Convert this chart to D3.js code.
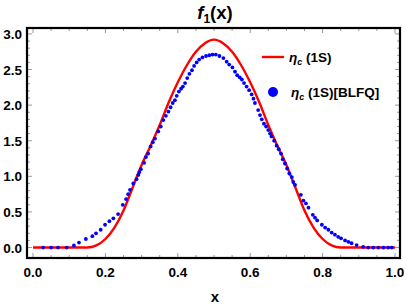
<!DOCTYPE html>
<meta charset="utf-8">
<script src="https://d3js.org/d3.v7.min.js"></script>
<style>
  body { margin: 0; background: #fff; }
  text { font-family: "Liberation Sans", Arial, sans-serif; font-weight: bold; }
</style>
<div id="my_dataviz"></div>
<script>
// red curve, eta_c(1S)
var redX = [0, 0.05, 0.1, 0.15, 0.175, 0.2, 0.225, 0.25, 0.275, 0.3, 0.325, 0.35, 0.375, 0.4, 0.425, 0.45, 0.475, 0.5,
            0.525, 0.55, 0.575, 0.6, 0.625, 0.65, 0.675, 0.7, 0.725, 0.75, 0.775, 0.8, 0.825, 0.85, 0.9, 0.95, 1];
var redY = [0, 0, 0, 0.0, 0.03, 0.12, 0.28, 0.52, 0.84, 1.16, 1.43, 1.72, 2.04, 2.32, 2.56, 2.75, 2.87, 2.92,
            2.87, 2.75, 2.56, 2.32, 2.04, 1.72, 1.43, 1.16, 0.84, 0.52, 0.28, 0.12, 0.03, 0.0, 0, 0, 0];

// blue points, eta_c(1S)[BLFQ]
var blueX = [0.028, 0.050, 0.069, 0.093, 0.113, 0.127, 0.146, 0.164, 0.174, 0.187, 0.199, 0.211, 0.222, 0.235,
             0.248, 0.257, 0.263, 0.268, 0.277, 0.286, 0.291, 0.294, 0.298, 0.307, 0.312, 0.318, 0.325, 0.331,
             0.337, 0.346, 0.353, 0.360, 0.367, 0.374, 0.380, 0.386, 0.392, 0.397, 0.403, 0.409, 0.414, 0.420,
             0.426, 0.432, 0.439, 0.445, 0.452, 0.459, 0.468, 0.478, 0.487, 0.496, 0.505, 0.515, 0.526, 0.535,
             0.542, 0.551, 0.558, 0.564, 0.571, 0.577, 0.583, 0.590, 0.597, 0.604, 0.609, 0.613, 0.622, 0.627,
             0.632, 0.638, 0.644, 0.650, 0.655, 0.659, 0.666, 0.673, 0.679, 0.685, 0.690, 0.696, 0.702, 0.708,
             0.715, 0.719, 0.724, 0.740, 0.747, 0.754, 0.761, 0.773, 0.779, 0.785, 0.798, 0.807, 0.816, 0.825,
             0.834, 0.843, 0.851, 0.862, 0.871, 0.880, 0.894, 0.912, 0.926, 0.940, 0.954, 0.968, 0.981, 0.991];
var blueY = [0, 0, 0, 0, 0.03, 0.07, 0.12, 0.16, 0.20, 0.25, 0.32, 0.37, 0.41, 0.47,
             0.60, 0.68, 0.75, 0.81, 0.90, 0.96, 1.02, 1.06, 1.10, 1.19, 1.27, 1.32, 1.42, 1.48,
             1.53, 1.63, 1.70, 1.79, 1.85, 1.91, 1.97, 2.03, 2.07, 2.13, 2.19, 2.23, 2.26, 2.31,
             2.38, 2.44, 2.49, 2.55, 2.60, 2.64, 2.67, 2.69, 2.70, 2.71, 2.71, 2.69, 2.66, 2.61,
             2.57, 2.53, 2.47, 2.42, 2.39, 2.36, 2.31, 2.26, 2.21, 2.15, 2.09, 2.03, 1.93, 1.86,
             1.80, 1.74, 1.70, 1.65, 1.60, 1.56, 1.50, 1.43, 1.38, 1.32, 1.24, 1.18, 1.11, 1.04,
             0.99, 0.92, 0.88, 0.74, 0.66, 0.62, 0.56, 0.46, 0.42, 0.38, 0.32, 0.28, 0.25, 0.21,
             0.18, 0.15, 0.13, 0.10, 0.08, 0.06, 0.035, 0.01, 0, 0, 0, 0, 0, 0];

var xTicks = [0, 0.2, 0.4, 0.6, 0.8, 1.0];
var yTicks = [0, 0.5, 1.0, 1.5, 2.0, 2.5, 3.0];

var W = 407, H = 307;
var frame = {left: 27, right: 400, top: 28, bottom: 258};

var svg = d3.select("#my_dataviz").append("svg")
    .attr("width", W).attr("height", H);

var x = d3.scaleLinear().domain([-0.0166, 1.0138]).range([frame.left, frame.right]);
var y = d3.scaleLinear().domain([-0.147, 3.083]).range([frame.bottom, frame.top]);

// ticks inside the frame, all four sides
var minorX = d3.range(0, 1.001, 0.05), minorY = d3.range(0, 3.001, 0.1);
var tg = svg.append("g").attr("stroke", "#999").attr("stroke-width", 1);
minorX.forEach(function(v) {
  var major = xTicks.some(function(t) { return Math.abs(t - v) < 1e-6; });
  var len = major ? 5 : 3;
  tg.append("line").attr("x1", x(v)).attr("x2", x(v)).attr("y1", frame.bottom).attr("y2", frame.bottom - len);
  tg.append("line").attr("x1", x(v)).attr("x2", x(v)).attr("y1", frame.top).attr("y2", frame.top + len);
});
minorY.forEach(function(v) {
  var major = yTicks.some(function(t) { return Math.abs(t - v) < 1e-6; });
  var len = major ? 5 : 3;
  tg.append("line").attr("y1", y(v)).attr("y2", y(v)).attr("x1", frame.left).attr("x2", frame.left + len);
  tg.append("line").attr("y1", y(v)).attr("y2", y(v)).attr("x1", frame.right).attr("x2", frame.right - len);
});

// red curve
var red = redX.map(function(d, i) { return [d, redY[i]]; });
svg.append("path")
  .datum(red)
  .attr("fill", "none")
  .attr("stroke", "#ff0000")
  .attr("stroke-width", 2.4)
  .attr("d", d3.line()
    .x(function(d) { return x(d[0]); })
    .y(function(d) { return y(d[1]); })
    .curve(d3.curveMonotoneX));

// blue points
var blue = blueX.map(function(d, i) { return [d, blueY[i]]; });
svg.selectAll("circle.pt")
  .data(blue)
  .enter()
  .append("circle")
    .attr("class", "pt")
    .attr("cx", function(d) { return x(d[0]); })
    .attr("cy", function(d) { return y(d[1]); })
    .attr("r", 1.9)
    .attr("fill", "#0000ff");

// frame
svg.append("rect")
  .attr("x", frame.left).attr("y", frame.top)
  .attr("width", frame.right - frame.left).attr("height", frame.bottom - frame.top)
  .attr("fill", "none").attr("stroke", "#000").attr("stroke-width", 2.2);

// tick labels
svg.selectAll("text.xt")
  .data(xTicks)
  .enter()
  .append("text")
    .attr("x", function(d) { return x(d); })
    .attr("y", 277)
    .attr("text-anchor", "middle")
    .attr("font-size", 13.5)
    .text(function(d) { return d.toFixed(1); });

svg.selectAll("text.yt")
  .data(yTicks)
  .enter()
  .append("text")
    .attr("x", 22)
    .attr("y", function(d) { return y(d) + 5; })
    .attr("text-anchor", "end")
    .attr("font-size", 13.5)
    .text(function(d) { return d.toFixed(1); });

// axis label
svg.append("text")
  .attr("x", 215).attr("y", 302)
  .attr("text-anchor", "middle")
  .attr("font-size", 15)
  .text("x");

// title f1(x)
var title = svg.append("text")
  .attr("x", 215).attr("y", 19)
  .attr("text-anchor", "middle")
  .attr("font-size", 18.5);
title.append("tspan").attr("font-style", "italic").text("f");
title.append("tspan").attr("font-size", 12).attr("dy", 4).text("1");
title.append("tspan").attr("dy", -4).text("(x)");

// legend
svg.append("line")
  .attr("x1", 262).attr("x2", 284).attr("y1", 57).attr("y2", 57)
  .attr("stroke", "#ff0000").attr("stroke-width", 2.4);
var l1 = svg.append("text").attr("x", 289).attr("y", 62).attr("font-size", 13.5);
l1.append("tspan").attr("font-style", "italic").text("η");
l1.append("tspan").attr("font-style", "italic").attr("font-size", 9).attr("dy", 3).text("c");
l1.append("tspan").attr("dy", -3).text(" (1S)");

svg.append("circle")
  .attr("cx", 273).attr("cy", 92).attr("r", 5)
  .attr("fill", "#0000ff");
var l2 = svg.append("text").attr("x", 291).attr("y", 97).attr("font-size", 13.5);
l2.append("tspan").attr("font-style", "italic").text("η");
l2.append("tspan").attr("font-style", "italic").attr("font-size", 9).attr("dy", 3).text("c");
l2.append("tspan").attr("dy", -3).text(" (1S)[BLFQ]");
</script>
